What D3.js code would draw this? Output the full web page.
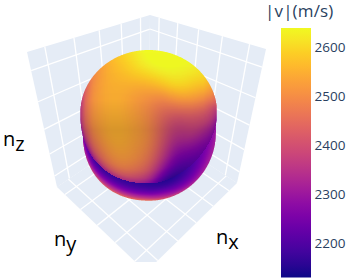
<!DOCTYPE html>
<html>
<head>
<meta charset="utf-8">
<script src="https://cdn.jsdelivr.net/npm/d3@7"></script>
<style>
  html, body { margin: 0; padding: 0; background: #fff; }
  text { font-family: "Open Sans", sans-serif; }
</style>
</head>
<body>
<div id="chart"></div>
<script>
// colourbar
var vMin = 2130.5, vMax = 2640;
var barTicks = [2200, 2300, 2400, 2500, 2600];

// wall / floor ticks
var axisTicks = [-1, -0.5, 0, 0.5, 1];
var axisRange = [-1.27, 1.27];

// |v|. upper lobe: u goes left to right, w goes from top edge to the crease
var upperU = [0, 0.04, 0.1, 0.2, 0.3, 0.4, 0.5, 0.6, 0.7, 0.8, 0.9, 0.96, 1];
var upperW = [0, 0.12, 0.25, 0.37, 0.5, 0.62, 0.72, 0.82, 0.9, 0.96, 1];
var upperValues = [
  [2350, 2440, 2500, 2550, 2590, 2620, 2650, 2650, 2650, 2640, 2610, 2540, 2420],
  [2350, 2450, 2510, 2550, 2570, 2610, 2640, 2650, 2640, 2625, 2590, 2510, 2410],
  [2350, 2460, 2520, 2550, 2550, 2550, 2560, 2590, 2610, 2585, 2530, 2470, 2390],
  [2350, 2460, 2520, 2550, 2550, 2520, 2500, 2480, 2520, 2520, 2480, 2420, 2370],
  [2350, 2460, 2520, 2550, 2550, 2530, 2500, 2440, 2410, 2430, 2420, 2390, 2350],
  [2350, 2450, 2510, 2550, 2555, 2535, 2510, 2430, 2360, 2390, 2390, 2370, 2340],
  [2340, 2430, 2490, 2540, 2550, 2525, 2500, 2410, 2320, 2350, 2340, 2340, 2320],
  [2330, 2400, 2460, 2510, 2530, 2510, 2470, 2370, 2260, 2280, 2300, 2310, 2310],
  [2320, 2350, 2420, 2480, 2500, 2470, 2430, 2300, 2220, 2240, 2270, 2290, 2300],
  [2310, 2310, 2360, 2420, 2430, 2400, 2360, 2220, 2180, 2210, 2250, 2280, 2290],
  [2300, 2270, 2300, 2340, 2350, 2330, 2300, 2170, 2160, 2200, 2240, 2270, 2290]
];

// under-side band: s goes left to right, t goes from the crease down to the rim
var bandS = [0, 0.04, 0.11, 0.23, 0.47, 0.6, 0.7, 0.81, 0.91, 1];
var bandT = [0, 0.3, 0.6, 0.85, 1];
var bandValues = [
  [2310, 2240, 2170, 2170, 2160, 2150, 2150, 2190, 2250, 2300],
  [2320, 2260, 2200, 2200, 2180, 2170, 2170, 2200, 2260, 2305],
  [2330, 2290, 2260, 2280, 2250, 2250, 2230, 2230, 2280, 2310],
  [2340, 2320, 2340, 2370, 2370, 2330, 2300, 2280, 2300, 2320],
  [2350, 2350, 2400, 2440, 2470, 2420, 2380, 2330, 2320, 2320]
];

var width = 354, height = 279;

var svg = d3.select("#chart").append("svg")
    .attr("width", width)
    .attr("height", height)
    .style("display", "block");

var defs = svg.append("defs");

// scene corners on screen
var backTop = [150, 15], backBottom = [149, 125];
var leftTop = [27, 52], leftBottom = [57, 187];
var rightTop = [266, 49], rightBottom = [237, 183];
var front = [146, 272];

// unit square to quad, corners in order (0,0) (1,0) (1,1) (0,1)
function homography(q) {
    var dx1 = q[1][0] - q[2][0], dx2 = q[3][0] - q[2][0], sx = q[0][0] - q[1][0] + q[2][0] - q[3][0];
    var dy1 = q[1][1] - q[2][1], dy2 = q[3][1] - q[2][1], sy = q[0][1] - q[1][1] + q[2][1] - q[3][1];
    var det = dx1 * dy2 - dx2 * dy1;
    var g = (sx * dy2 - dx2 * sy) / det;
    var h = (dx1 * sy - sx * dy1) / det;
    var a = q[1][0] - q[0][0] + g * q[1][0], b = q[3][0] - q[0][0] + h * q[3][0], c = q[0][0];
    var d = q[1][1] - q[0][1] + g * q[1][1], e = q[3][1] - q[0][1] + h * q[3][1], f = q[0][1];
    return function(u, v) {
        var w = g * u + h * v + 1;
        return [(a * u + b * v + c) / w, (d * u + e * v + f) / w];
    };
}

var unit = d3.scaleLinear().domain(axisRange).range([0, 1]);
var line = d3.line();

defs.append("clipPath").attr("id", "scene-clip")
  .append("rect").attr("width", width).attr("height", 262);

var scene = svg.append("g").attr("clip-path", "url(#scene-clip)");

function drawPanel(corners) {
    var map = homography(corners);
    var panel = scene.append("g");
    panel.append("path")
        .attr("d", line(corners) + "Z")
        .attr("fill", "#E5ECF6");
    var segs = [];
    axisTicks.forEach(function(t) {
        segs.push([map(unit(t), 0), map(unit(t), 1)]);
        segs.push([map(0, unit(t)), map(1, unit(t))]);
    });
    panel.selectAll("path.grid")
        .data(segs)
        .join("path")
        .attr("class", "grid")
        .attr("d", line)
        .attr("fill", "none")
        .attr("stroke", "#fff")
        .attr("stroke-width", 1.3);
}

drawPanel([leftTop, backTop, backBottom, leftBottom]);
drawPanel([rightTop, backTop, backBottom, rightBottom]);
drawPanel([backBottom, rightBottom, front, leftBottom]);

// surface outline
var lobe = { x0: 80, x1: 217, cx: 148.7, cy: 113.5, rx: 68.6, rt: 63.5, rb: 70 };
var rim = { cx: 149.3, cy: 131.7, rx: 66.8, ry: 69 };

function lobeTop(x) {
    var d = Math.min(1, Math.abs(x - lobe.cx) / lobe.rx);
    return lobe.cy - lobe.rt * Math.sqrt(1 - d * d);
}
function crease(x) {
    var p = x < lobe.cx ? 2.2 : 1.8;
    var d = Math.min(1, Math.abs(x - lobe.cx) / lobe.rx);
    return lobe.cy + lobe.rb * Math.pow(1 - Math.pow(d, p), 1 / p);
}
function rimBottom(x) {
    var p = x < rim.cx ? 2.2 : 2;
    var d = Math.abs(x - rim.cx) / rim.rx;
    if (d >= 1) return lobe.cy;
    return rim.cy + rim.ry * Math.pow(1 - Math.pow(d, p), 1 / p);
}

// smooth lookup through the value grid
function gridLookup(grid, colKnots, rowKnots) {
    var colIndex = d3.scaleLinear().domain(colKnots).range(d3.range(colKnots.length)).clamp(true);
    var rowIndex = d3.scaleLinear().domain(rowKnots).range(d3.range(rowKnots.length)).clamp(true);
    var rows = grid.map(function(r) { return d3.interpolateBasis(r); });
    return function(u, w) {
        var cf = colIndex(u) / (colKnots.length - 1), rf = rowIndex(w) / (rowKnots.length - 1);
        return d3.interpolateBasis(rows.map(function(r) { return r(cf); }))(rf);
    };
}

var upperAt = gridLookup(upperValues, upperU, upperW);
var bandAt = gridLookup(bandValues, bandS, bandT);

var uScale = d3.scaleLinear().domain([lobe.x0, lobe.x1]).range([0, 1]).clamp(true);
var colorScale = d3.scaleSequential(d3.interpolatePlasma).domain([vMin, vMax]).clamp(true);
var shade = d3.scaleLinear().domain([50, 100, 130, 190]).range([1, 0.97, 0.85, 0.93]).clamp(true);

var pixels = [];
d3.range(78, 220).forEach(function(x) {
    var px = x + 0.5, top = lobeTop(px), mid = crease(px), low = rimBottom(px);
    d3.range(48, 204).forEach(function(y) {
        var py = y + 0.5, v, s = 1;
        if (py < top - 1 || py > Math.max(mid, low) + 1) return;
        if (py <= mid) {
            v = upperAt(uScale(px), (py - top) / Math.max(1, mid - top));
            s = shade(py);
        } else {
            v = bandAt(uScale(px), (py - mid) / Math.max(1, low - mid));
        }
        var c = d3.rgb(colorScale(v));
        pixels.push({ x: x, y: y, fill: d3.rgb(c.r * s, c.g * s, c.b * s).formatHex() });
    });
});

var xs = d3.range(lobe.x0 + 0.25, lobe.x1 + 0.25, 0.5);
var outline = xs.map(function(x) { return [x, lobeTop(x)]; })
    .concat(xs.slice().reverse().map(function(x) { return [x, Math.max(crease(x), rimBottom(x))]; }));

defs.append("clipPath").attr("id", "surface-clip")
  .append("path").attr("d", line(outline) + "Z");

svg.append("g")
    .attr("clip-path", "url(#surface-clip)")
    .attr("shape-rendering", "crispEdges")
  .selectAll("rect")
  .data(pixels)
  .join("rect")
    .attr("x", function(d) { return d.x; })
    .attr("y", function(d) { return d.y; })
    .attr("width", 1)
    .attr("height", 1)
    .attr("fill", function(d) { return d.fill; });

// colourbar
var barX = 281, barW = 30, barTop = 28, barBottom = 277.5;
var barScale = d3.scaleLinear().domain([vMin, vMax]).range([barBottom, barTop]);

var gradient = defs.append("linearGradient")
    .attr("id", "bar-gradient")
    .attr("x1", 0).attr("x2", 0).attr("y1", 1).attr("y2", 0);
gradient.selectAll("stop")
    .data(d3.range(0, 1.001, 0.05))
    .join("stop")
    .attr("offset", function(d) { return d; })
    .attr("stop-color", function(d) { return d3.interpolatePlasma(d); });

svg.append("rect")
    .attr("x", barX).attr("y", barTop)
    .attr("width", barW).attr("height", barBottom - barTop)
    .attr("fill", "url(#bar-gradient)");

var barAxis = svg.append("g")
    .attr("transform", "translate(" + (barX + barW) + ",0)")
    .call(d3.axisRight(barScale).tickValues(barTicks).tickSize(0).tickPadding(3.5).tickFormat(d3.format("d")));
barAxis.select(".domain").remove();
barAxis.selectAll("text")
    .attr("fill", "#2a3f5f")
    .style("font-size", "13.5px")
    .style("font-family", '"Open Sans", sans-serif');

svg.append("text")
    .attr("x", 265).attr("y", 17)
    .attr("fill", "#2a3f5f")
    .style("font-size", "17px")
    .style("letter-spacing", "0.15px")
    .text("|v|(m/s)");

// axis names
var axisNames = [
    { n: "n", sub: "z", x: 3, y: 146 },
    { n: "n", sub: "y", x: 54, y: 246 },
    { n: "n", sub: "x", x: 216, y: 244 }
];
var names = svg.selectAll("text.axis-name")
    .data(axisNames)
    .join("text")
    .attr("class", "axis-name")
    .attr("x", function(d) { return d.x; })
    .attr("y", function(d) { return d.y; })
    .attr("fill", "#000")
    .style("font-size", "20px");
names.append("tspan").text(function(d) { return d.n; });
names.append("tspan").attr("dy", 5).text(function(d) { return d.sub; });
</script>
</body>
</html>
